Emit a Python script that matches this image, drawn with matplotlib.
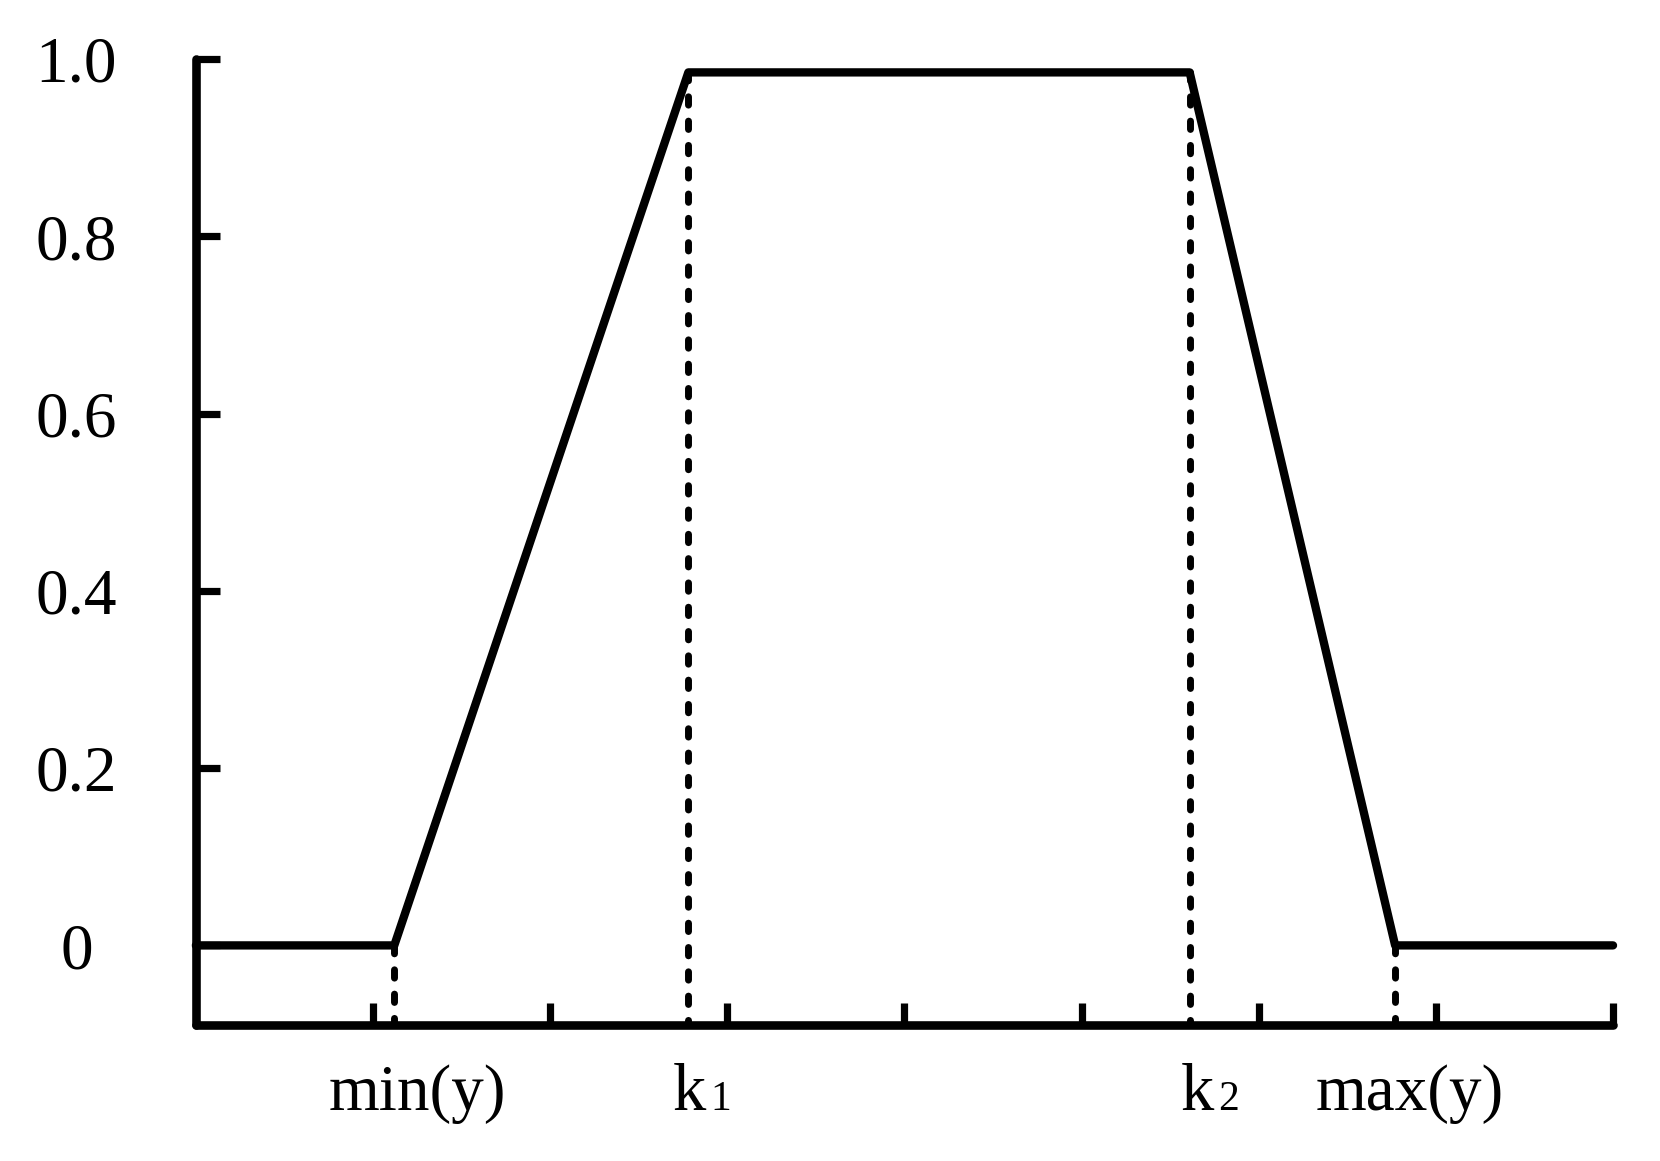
import matplotlib.pyplot as plt
from matplotlib.transforms import blended_transform_factory

# breakpoints of the trapezoid membership function
x_min_y = 1.12
x_k1 = 2.78
x_k2 = 5.61
x_max_y = 6.77
plateau = 0.985

curve_x = [0, x_min_y, x_k1, x_k2, x_max_y, 8]
curve_y = [0, 0, plateau, plateau, 0, 0]

# dashed drop lines: x position and top value
drop_x = [x_min_y, x_k1, x_k2, x_max_y]
drop_top = [0, plateau, plateau, 0]

x_ticks = [1, 2, 3, 4, 5, 6, 7, 8]
y_ticks = [0, 0.2, 0.4, 0.6, 0.8, 1.0]
y_labels = ['0', '0.2', '0.4', '0.6', '0.8', '1.0']

plt.rcParams['font.family'] = ['Liberation Serif', 'DejaVu Serif']

fig = plt.figure(figsize=(16.6, 11.61), dpi=100)
ax = fig.add_axes([0.118, 0.117, 0.8537, 0.8321])

ymin = -0.09
ax.set_xlim(0, 8)
ax.set_ylim(ymin, 1.0)

ax.plot(curve_x, curve_y, color='black', lw=6, solid_capstyle='round',
        solid_joinstyle='round', clip_on=False, zorder=3)

for x, top in zip(drop_x, drop_top):
    ax.plot([x, x], [top, ymin], color='black', lw=5,
            linestyle=(0, (1.2, 2.3)), dash_capstyle='round', zorder=2)

for side in ['top', 'right']:
    ax.spines[side].set_visible(False)
for side in ['left', 'bottom']:
    ax.spines[side].set_linewidth(6.2)
    ax.spines[side].set_capstyle('round')

ax.set_xticks(x_ticks)
ax.set_xticklabels([])
ax.tick_params(axis='x', direction='in', length=16, width=5.2)
ax.set_yticks(y_ticks, y_labels)
ax.tick_params(axis='y', direction='in', length=17, width=5.2, pad=86,
               labelsize=47)
for lab in ax.get_yticklabels():
    lab.set_horizontalalignment('center')

# x-axis annotations below the axis
trans = blended_transform_factory(ax.transData, fig.transFigure)
base_y = 0.044
ax.text(1.25, base_y, 'min(y)', transform=trans, ha='center', va='baseline',
        fontsize=47)
ax.text(6.855, base_y, 'max(y)', transform=trans, ha='center', va='baseline',
        fontsize=47)
for x0, sub in [(2.69, '1'), (5.56, '2')]:
    ax.text(x0, base_y, 'k', transform=trans, ha='left', va='baseline',
            fontsize=48)
    ax.annotate(sub, xy=(x0, base_y), xycoords=trans, xytext=(27, 0),
                textcoords='offset points', ha='left', va='baseline',
                fontsize=30)

fig.savefig('out.png', dpi=100)
